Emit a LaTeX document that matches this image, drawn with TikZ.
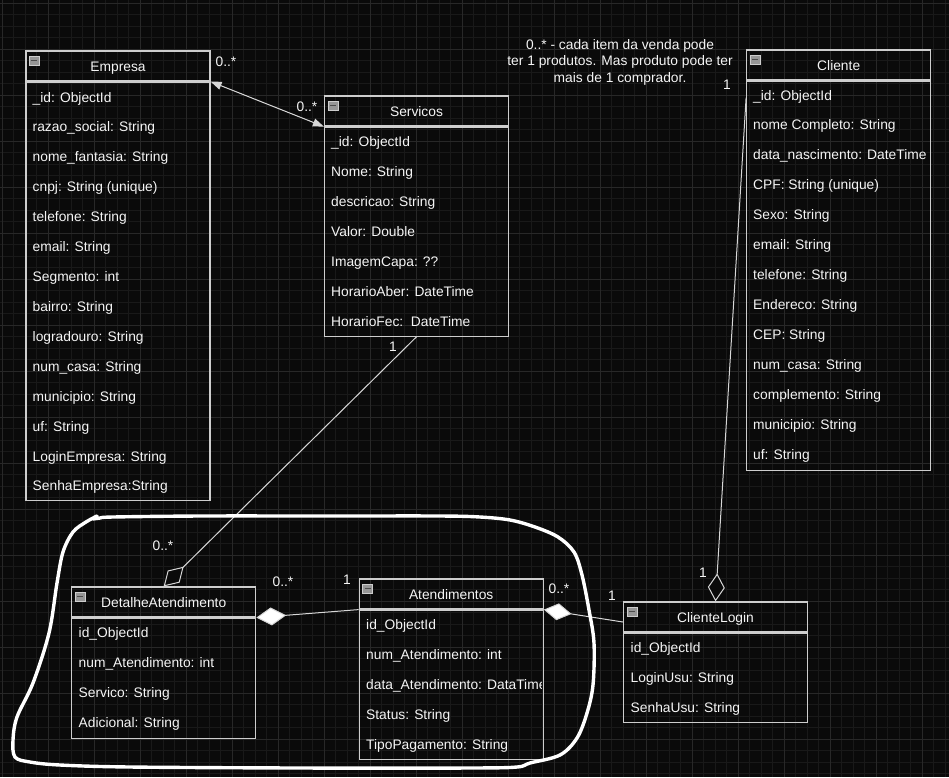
\documentclass[tikz,border=0pt]{standalone}
\usepackage{fontspec}
\setmainfont{Liberation Sans}
\usetikzlibrary{arrows.meta}
\definecolor{bgcol}{RGB}{10,10,10}
\definecolor{gridmin}{RGB}{25,25,25}
\definecolor{gridmaj}{RGB}{40,40,40}
\definecolor{boxcol}{RGB}{205,205,205}
\definecolor{txtcol}{RGB}{245,245,245}
\definecolor{linecol}{RGB}{215,215,215}
\definecolor{iconcol}{RGB}{150,150,150}
\newcommand\umlfont{\fontsize{13.8}{16.5}\selectfont}
\begin{document}
\begin{tikzpicture}[x=1pt, y=-1pt,
	hdr/.style={draw=boxcol, line width=1.2pt, minimum width=184pt, minimum height=30pt, inner sep=0pt, text height=13.9pt, text depth=2.9pt, text=txtcol, font=\umlfont},
	bodybox/.style={draw=boxcol, line width=1.2pt, minimum width=184pt, anchor=north, inner sep=0pt},
	sep/.style={draw=boxcol, line width=2.4pt},
	icon/.style={draw=boxcol, fill=iconcol, line width=0.6pt},
	row/.style={anchor=west, inner sep=0pt, text height=9.9pt, text depth=2.9pt, text=txtcol, font=\umlfont},
	mult/.style={inner sep=0pt, text=txtcol, font=\umlfont},
	conn/.style={draw=linecol, line width=1pt},
	freehand/.style={draw=white, line width=3.4pt, line cap=round, line join=round}]
	\useasboundingbox (0,0) rectangle (949,777);
	\fill [bgcol] (0,0) rectangle (949,777);
	% grid
	\foreach \k in {0,...,82} \draw [gridmin, line width=0.8pt] ({2.3+11.5*\k},0) -- ({2.3+11.5*\k},777);
	\foreach \k in {0,...,67} \draw [gridmin, line width=0.8pt] (0,{3+11.5*\k}) -- (949,{3+11.5*\k});
	\foreach \k in {0,...,20} \draw [gridmaj, line width=0.9pt] ({2.3+46*\k},0) -- ({2.3+46*\k},777);
	\foreach \k in {0,...,16} \draw [gridmaj, line width=0.9pt] (0,{3+46*\k}) -- (949,{3+46*\k});

	% Empresa
	\node [hdr] (empresa) at (118,66) {Empresa};
	\node [bodybox, minimum height=418pt] (empresaB) at (empresa.south) {};
	\draw [sep] (empresa.south west) -- (empresa.south east);
	\draw [icon] ([shift={(4,5.4)}]empresa.north west) rectangle ++(10,9);
	\foreach \t [count=\i from 0] in {\_id: ObjectId, razao\_social: String, nome\_fantasia: String, cnpj: String (unique), telefone: String, email: String, Segmento: int, bairro: String, logradouro: String, num\_casa: String, municipio: String, uf: String, LoginEmpresa: String, SenhaEmpresa:String}
		\node [row] (empresaR\i) at (32.5,{98.5+29.92*\i}) {\t};

	% Servicos
	\node [hdr] (servicos) at (416.5,111) {Servicos};
	\node [bodybox, minimum height=209pt] (servicosB) at (servicos.south) {};
	\draw [sep] (servicos.south west) -- (servicos.south east);
	\draw [icon] ([shift={(4,5.4)}]servicos.north west) rectangle ++(10,9);
	\foreach \t [count=\i from 0] in {\_id: ObjectId, Nome: String, descricao: String, Valor: Double, ImagemCapa: ??, HorarioAber: DateTime, HorarioFec:\ \ DateTime}
		\node [row] (servicosR\i) at (331,{142.5+30*\i}) {\t};

	% Cliente
	\node [hdr] (cliente) at (838.7,65) {Cliente};
	\node [bodybox, minimum height=389pt] (clienteB) at (cliente.south) {};
	\draw [sep] (cliente.south west) -- (cliente.south east);
	\draw [icon] ([shift={(4,5.4)}]cliente.north west) rectangle ++(10,9);
	\foreach \t [count=\i from 0] in {\_id: ObjectId, nome Completo: String, data\_nascimento: DateTime, CPF: String (unique), Sexo: String, email: String, telefone: String, Endereco: String, CEP: String, num\_casa: String, complemento: String, municipio: String, uf: String}
		\node [row] (clienteR\i) at (753,{96.5+29.92*\i}) {\t};

	% ClienteLogin
	\node [hdr] (clogin) at (715.5,617) {ClienteLogin};
	\node [bodybox, minimum height=89pt] (cloginB) at (clogin.south) {};
	\draw [sep] (clogin.south west) -- (clogin.south east);
	\draw [icon] ([shift={(4,5.4)}]clogin.north west) rectangle ++(10,9);
	\foreach \t [count=\i from 0] in {id\_ObjectId, LoginUsu: String, SenhaUsu: String}
		\node [row] (cloginR\i) at (630.5,{648.5+30*\i}) {\t};

	% Atendimentos
	\node [hdr] (atend) at (451.2,594) {Atendimentos};
	\node [bodybox, minimum height=149pt] (atendB) at (atend.south) {};
	\draw [sep] (atend.south west) -- (atend.south east);
	\draw [icon] ([shift={(4,5.4)}]atend.north west) rectangle ++(10,9);
	\begin{scope}
		\clip (359,609) rectangle (541.5,758);
		\foreach \t [count=\i from 0] in {id\_ObjectId, num\_Atendimento: int, data\_Atendimento: DataTime, Status: String, TipoPagamento: String}
			\node [row] (atendR\i) at (366,{625.5+30*\i}) {\t};
	\end{scope}

	% DetalheAtendimento
	\node [hdr] (detalhe) at (163.7,602) {DetalheAtendimento};
	\node [bodybox, minimum height=120pt] (detalheB) at (detalhe.south) {};
	\draw [sep] (detalhe.south west) -- (detalhe.south east);
	\draw [icon] ([shift={(4,5.4)}]detalhe.north west) rectangle ++(10,9);
	\foreach \t [count=\i from 0] in {id\_ObjectId, num\_Atendimento: int, Servico: String, Adicional: String}
		\node [row] (detalheR\i) at (78.5,{633.5+30*\i}) {\t};

	% minus signs of the icons
	\foreach \n in {empresa,servicos,cliente,clogin,atend,detalhe}
		\draw [draw=black!70, line width=1.2pt] ([shift={(6,9.9)}]\n.north west) -- ++(6,0);

	% connectors
	\draw [conn, {Triangle[length=11pt,width=8pt]}-{Triangle[length=11pt,width=8pt]}, fill=linecol] (empresa.south east) -- (servicos.south west);
	\draw [conn, -{Diamond[length=28pt,width=17pt,fill=bgcol]}] (servicosB.south) -- (detalhe.north);
	\draw [conn, -{Diamond[length=30pt,width=18pt,fill=white]}] (atend.south west) -- (detalhe.south east);
	\draw [conn, -{Diamond[length=28pt,width=17pt,fill=white]}] ([yshift=-5pt]clogin.west) -- (atend.south east);
	\draw [conn, -{Diamond[length=28pt,width=17pt,fill=bgcol]}] ([yshift=-17pt]clienteB.north west) -- (clogin.north);

	% multiplicities
	\node [mult] (m1) at (226,62) {0..*};
	\node [mult] (m2) at (307,107) {0..*};
	\node [mult] (m3) at (393,347) {1};
	\node [mult] (m4) at (163,546) {0..*};
	\node [mult] (m5) at (283,582) {0..*};
	\node [mult] (m6) at (347,580) {1};
	\node [mult] (m7) at (559,589) {0..*};
	\node [mult] (m8) at (612,596) {1};
	\node [mult] (m9) at (703,573) {1};
	\node [mult] (m10) at (727,85) {1};
	\node [mult, align=center] (note) at (620,62) {0..* - cada item da venda pode\\ter 1 produtos. Mas produto pode ter\\mais de 1 comprador.};

	% hand drawn loop
	\draw [freehand] plot [smooth, tension=0.55] coordinates {(93,519) (100,518) (113,517) (200,516) (330,516) (440,516) (480,517) (510,520) (535,527) (558,537) (574,552) (582,575) (589,610) (594,643) (593,685) (587,713) (577,738) (560,755) (530,763) (517,767) (470,768) (300,768) (130,767) (60,765) (30,762) (15,757) (13,740) (17,717) (33,683) (49,633) (57,583) (63,552) (73,532) (86,522) (97,516)};
\end{tikzpicture}
\end{document}
